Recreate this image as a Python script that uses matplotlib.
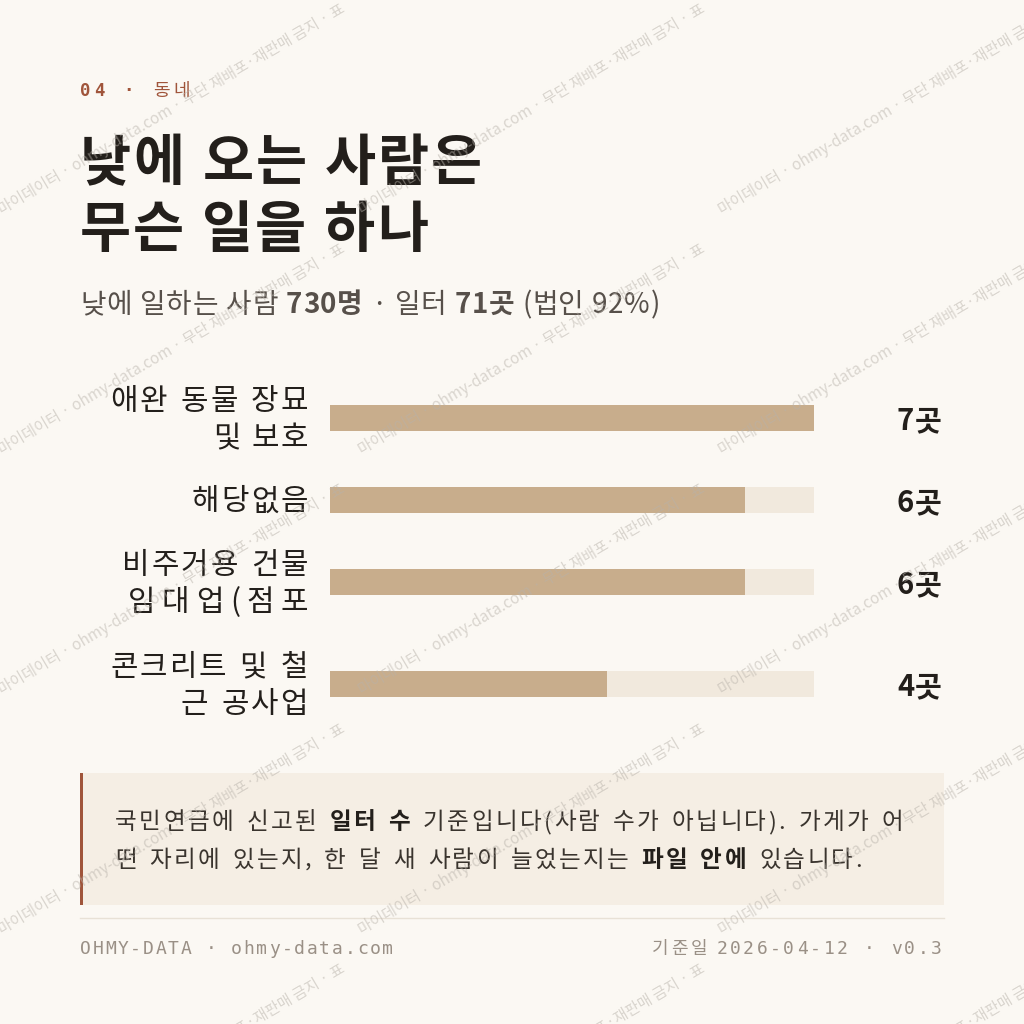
import matplotlib
matplotlib.use("Agg")
import matplotlib.pyplot as plt
from matplotlib.patches import Rectangle

plt.rcParams['font.family'] = ['Noto Sans CJK KR', 'DejaVu Sans']

# ---- data ----
kicker_num = "04"
kicker_name = "동네"
title_lines = ["낮에 오는 사람은", "무슨 일을 하나"]
people = 730
workplaces = 71
corp_share = 92
categories = ["애완 동물 장묘\n및 보호", "해당없음", "비주거용 건물\n임대업(점포", "콘크리트 및 철\n근 공사업"]
counts = [7, 6, 6, 4]
unit = "곳"
note_lines = [
    [("국민연금에 신고된 ", False), ("일터 수", True), (" 기준입니다(사람 수가 아닙니다). 가게가 어", False)],
    [("떤 자리에 있는지, 한 달 새 사람이 늘었는지는 ", False), ("파일 안에", True), (" 있습니다.", False)],
]
footer_left = "OHMY-DATA · ohmy-data.com"
footer_label = "기준일"
footer_date = "2026-04-12"
footer_ver = "v0.3"
watermark = "마이데이터 · ohmy-data.com · 무단 재배포·재판매 금지 · 표"

# ---- style ----
BG = '#FBF8F3'
RUST = '#A0553B'
INK = '#231F1B'
SUB = '#57504A'
NOTE_INK = '#3A342E'
BAR = '#C8AD8C'
TRACK = '#F1E9DD'
NOTE_BG = '#F5EEE4'
RULE = '#E8E1D6'
FOOT = '#9A9086'
MONO = ['DejaVu Sans Mono', 'Noto Sans CJK KR']

row_y = [418, 500, 582, 684]   # row centres in px
bar_h = 26
# measured line widths in the reference (px), text is spaced out to fit them
label_widths = [[198, 95], [116], [186, 180], [198, 128]]

fig = plt.figure(figsize=(10.24, 10.24), dpi=100, facecolor=BG)
ax = fig.add_axes([0, 0, 1, 1])
ax.set_xlim(0, 1024)
ax.set_ylim(1024, 0)
ax.axis('off')
r = fig.canvas.get_renderer()

_cache = {}


def width_of(s, kw):
    t = ax.text(0, 0, s, **kw)
    w = t.get_window_extent(renderer=r).width
    t.remove()
    return w


def adv(c, kw):
    key = (c, repr(kw))
    if key not in _cache:
        _cache[key] = width_of("가" + c + "가", kw) - width_of("가가", kw)
    return _cache[key]


def draw_line(x, y, runs, width, ha='left', space_weight=1.0):
    """runs: list of (text, kw). Spreads the line so that it spans `width` px."""
    chars = [(c, kw) for s, kw in runs for c in s]
    natural = sum(adv(c, kw) for c, kw in chars)
    weights = [space_weight if c == ' ' else 1.0 for c, _ in chars[:-1]]
    unit_extra = (width - natural) / max(sum(weights), 1)
    if ha == 'right':
        x -= width
    for i, (c, kw) in enumerate(chars):
        if c != ' ':
            ax.text(x, y, c, va='baseline', ha='left', **kw)
        if i < len(weights):
            x += adv(c, kw) + unit_extra * weights[i]


def K(size, color, bold=False, family=None):
    kw = dict(fontsize=size, color=color, fontweight='bold' if bold else 'normal')
    if family:
        kw['family'] = family
    return kw


SW = 2.2  # word gaps a bit wider than letter gaps, as in the reference face

# kicker
draw_line(80, 96, [(kicker_num + " · ", K(12.5, RUST, True, MONO)),
                   (kicker_name, K(13, RUST))], 110)

# title
draw_line(80, 180, [(title_lines[0], K(40, INK, True))], 402, space_weight=SW)
draw_line(80, 247, [(title_lines[1], K(40, INK, True))], 348, space_weight=SW)

# subtitle
draw_line(80, 313, [("낮에 일하는 사람 ", K(20, SUB)), (f"{people}명", K(20, SUB, True)),
                    (" · 일터 ", K(20, SUB)), (f"{workplaces}곳", K(20, SUB, True)),
                    (f" (법인 {corp_share}%)", K(20, SUB))], 580, space_weight=SW)

# bars
bax = fig.add_axes([330 / 1024, 0, 484 / 1024, 1])
bax.set_xlim(0, max(counts))
bax.set_ylim(1024, 0)
bax.axis('off')
bax.patch.set_alpha(0)
bax.barh(row_y, [max(counts)] * len(counts), height=bar_h, color=TRACK, linewidth=0)
bax.barh(row_y, counts, height=bar_h, color=BAR, linewidth=0)

line_gap = 37
for y, cat, n, widths in zip(row_y, categories, counts, label_widths):
    lines = cat.split("\n")
    top = y - (len(lines) - 1) * line_gap / 2
    for i, (ln, w) in enumerate(zip(lines, widths)):
        draw_line(308, top + i * line_gap + 10.5, [(ln, K(21.5, INK))], w, ha='right',
                  space_weight=SW)
    draw_line(942, y + 12, [(f"{n}{unit}", K(21, INK, True))], 45, ha='right')

# note box
ax.add_patch(Rectangle((80, 773), 864, 132, facecolor=NOTE_BG, edgecolor='none'))
ax.add_patch(Rectangle((80, 773), 3, 132, facecolor=RUST, edgecolor='none'))
for yb, runs, w in zip([829, 867], note_lines, [788, 747]):
    draw_line(115, yb, [(s, K(17, INK if b else NOTE_INK, b)) for s, b in runs], w,
              space_weight=SW)

# footer
ax.plot([80, 944], [918, 918], color=RULE, lw=1)
draw_line(80, 954, [(footer_left, K(13, FOOT, family=MONO))], 313)
draw_line(942, 954, [(footer_label + " ", K(13, FOOT)),
                     (f"{footer_date} · {footer_ver}", K(13, FOOT, family=MONO))], 290, ha='right')

# watermark overlay
wax = fig.add_axes([0, 0, 1, 1])
wax.set_xlim(0, 1024)
wax.set_ylim(1024, 0)
wax.axis('off')
wax.patch.set_alpha(0)
for x0 in range(0, 1024, 360):
    for y0 in range(-25, 1024, 240):
        t = wax.text(x0 + 2, y0 + 240, watermark, fontsize=11, color='#B8B2AA', alpha=0.5,
                     rotation=30.5, rotation_mode='anchor', ha='left', va='baseline')
        t.set_clip_path(Rectangle((x0, y0), 360, 240, transform=wax.transData))

fig.savefig("out.png", dpi=100, facecolor=BG)
